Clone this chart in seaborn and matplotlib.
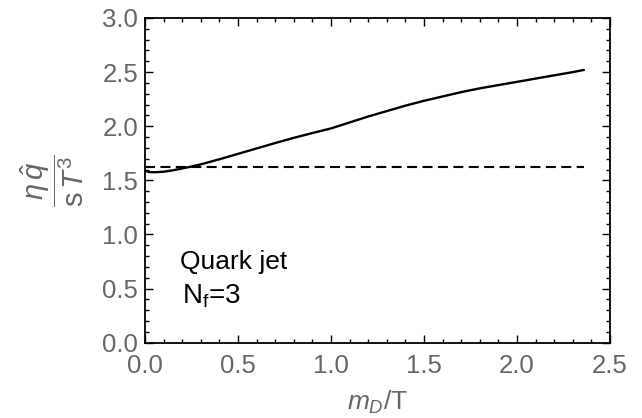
import seaborn as sns
import matplotlib.pyplot as plt
import pandas as pd
from matplotlib.ticker import MultipleLocator

# curve values
md_over_T = [0.0, 0.02, 0.05, 0.1, 0.15, 0.2, 0.25, 0.3, 0.4, 0.5, 0.6, 0.7, 0.8, 0.9,
             1.0, 1.1, 1.2, 1.3, 1.4, 1.5, 1.6, 1.7, 1.8, 1.9, 2.0, 2.1, 2.2, 2.3, 2.36]
qhat_ratio = [1.59, 1.577, 1.575, 1.58, 1.593, 1.61, 1.628, 1.648, 1.695, 1.745, 1.795,
              1.845, 1.893, 1.937, 1.98, 2.035, 2.09, 2.14, 2.19, 2.235, 2.275, 2.315,
              2.35, 2.38, 2.41, 2.44, 2.47, 2.5, 2.52]
dashed_x = [0.0, 2.36]
dashed_y = [1.62, 1.62]

sns.set_style("ticks")
plt.rcParams['font.family'] = ['Liberation Sans', 'DejaVu Sans']
plt.rcParams['mathtext.fontset'] = 'custom'
plt.rcParams['mathtext.rm'] = 'Liberation Sans'
plt.rcParams['mathtext.it'] = 'Liberation Sans:italic'

fig, ax = plt.subplots(figsize=(6.42, 4.18), dpi=100)

curve = pd.DataFrame({'x': md_over_T, 'y': qhat_ratio})
sns.lineplot(data=curve, x='x', y='y', ax=ax, color='black', linewidth=1.7)
ax.plot(dashed_x, dashed_y, color='black', linewidth=1.5, linestyle=(0, (4.8, 2.6)))

ax.set_xlim(0, 2.5)
ax.set_ylim(0, 3.0)
ax.xaxis.set_major_locator(MultipleLocator(0.5))
ax.xaxis.set_minor_locator(MultipleLocator(0.1))
ax.yaxis.set_major_locator(MultipleLocator(0.5))
ax.yaxis.set_minor_locator(MultipleLocator(0.1))
ax.tick_params(which='both', direction='in', top=True, right=True, colors='black',
               labelcolor='#666666', labelsize=18.5, width=1)
ax.tick_params(which='major', length=6)
ax.tick_params(which='minor', length=3)
ax.tick_params(axis='x', pad=8)
ax.tick_params(axis='y', pad=5)
for s in ax.spines.values():
    s.set_linewidth(1.3)
    s.set_color('black')

ax.set_xlabel(r'$m_D$/T', color='#666666', fontsize=19, labelpad=8)
ax.set_ylabel(r'$\dfrac{\eta\,\hat{q}}{\mathrm{s}\,T^3}$', color='#666666', fontsize=21, labelpad=12)

ax.text(0.19, 0.75, 'Quark jet', fontsize=19, color='black', va='center')
ax.text(0.2, 0.43, r'N$_\mathrm{f}$=3', fontsize=20, color='black', va='center')

fig.subplots_adjust(left=0.226, right=0.95, top=0.957, bottom=0.18)
fig.savefig('out.png', dpi=100)
